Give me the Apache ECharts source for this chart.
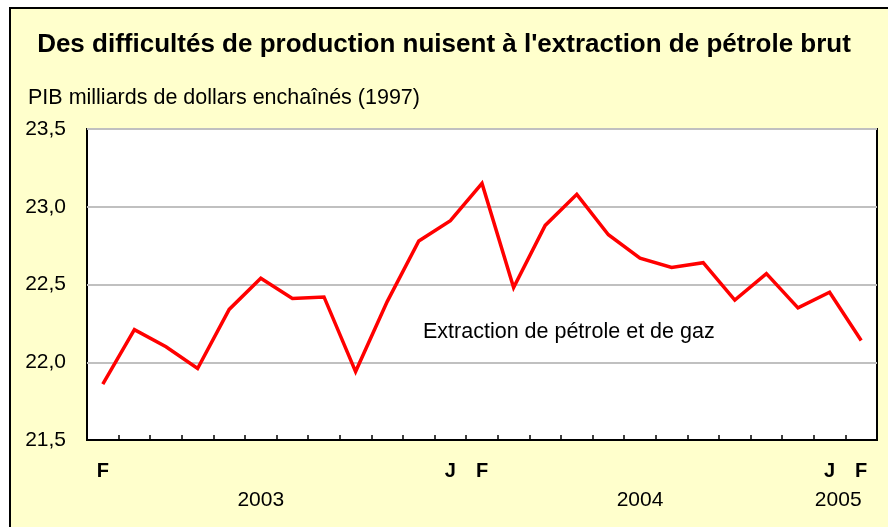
<!DOCTYPE html>
<html>
<head>
<meta charset="utf-8">
<script src="https://cdn.jsdelivr.net/npm/echarts@6/dist/echarts.min.js"></script>
<style>
  html, body { margin: 0; padding: 0; background: #fff; }
  #chart { width: 888px; height: 527px; }
</style>
</head>
<body>
<div id="chart"></div>
<script>
// mois de février 2003 à février 2005
const months = ['2003-02', '2003-03', '2003-04', '2003-05', '2003-06', '2003-07', '2003-08',
  '2003-09', '2003-10', '2003-11', '2003-12', '2004-01', '2004-02', '2004-03', '2004-04',
  '2004-05', '2004-06', '2004-07', '2004-08', '2004-09', '2004-10', '2004-11', '2004-12',
  '2005-01', '2005-02'];
const monthLetters = ['F', '', '', '', '', '', '', '', '', '', '', 'J', 'F', '', '', '', '', '', '', '', '', '', '', 'J', 'F'];
const yearLabels = ['', '', '', '', '', '2003', '', '', '', '', '', '', '', '', '', '', '', '2004', '', '', '', '', '', '', '2005'];
const extraction = [21.86, 22.21, 22.10, 21.96, 22.34, 22.54, 22.41, 22.42, 21.94, 22.39, 22.78, 22.91, 23.15,
  22.48, 22.88, 23.08, 22.82, 22.67, 22.61, 22.64, 22.40, 22.57, 22.35, 22.45, 22.14];

const chart = echarts.init(document.getElementById('chart'));
const font = 'Arial, "Liberation Sans", sans-serif';

chart.setOption({
  backgroundColor: '#ffffff',
  animation: false,
  textStyle: { fontFamily: font },
  graphic: [
    {
      type: 'rect', z: -10,
      shape: { x: 10, y: 8, width: 900, height: 540 },
      style: { fill: '#FFFFCC', stroke: '#000', lineWidth: 2 }
    },
    {
      type: 'text', left: 'center', top: 32,
      style: { text: "Des difficultés de production nuisent à l'extraction de pétrole brut", font: 'bold 26px ' + font, fill: '#000' }
    },
    {
      type: 'text', left: 28, top: 87,
      style: { text: 'PIB milliards de dollars enchaînés (1997)', font: '21.5px ' + font, fill: '#000' }
    },
    {
      type: 'text', left: 423, top: 321,
      style: { text: 'Extraction de pétrole et de gaz', font: '21.5px ' + font, fill: '#000' }
    }
  ],
  grid: {
    left: 87, right: 11, top: 129, bottom: 87,
    show: true, backgroundColor: '#fff', borderColor: '#000', borderWidth: 2
  },
  xAxis: [
    {
      type: 'category', data: months, boundaryGap: true,
      axisLine: { lineStyle: { color: '#000', width: 2 } },
      axisTick: { show: true, inside: true, length: 5, interval: 0, lineStyle: { color: '#000', width: 1.5 } },
      axisLabel: {
        interval: 0, margin: 21, color: '#000', fontSize: 20, fontWeight: 'bold',
        formatter: (v, i) => monthLetters[i]
      }
    },
    {
      type: 'category', data: months, position: 'bottom', boundaryGap: true,
      axisLine: { show: false }, axisTick: { show: false },
      axisLabel: {
        interval: 0, margin: 50, color: '#000', fontSize: 21,
        formatter: (v, i) => yearLabels[i] ? '{' + (i === 24 ? 'l' : 'n') + '|' + yearLabels[i] + '}' : '',
        rich: { n: { fontSize: 21, color: '#000' }, l: { fontSize: 21, color: '#000', padding: [0, 46, 0, 0] } }
      }
    }
  ],
  yAxis: {
    type: 'value', min: 21.5, max: 23.5, interval: 0.5,
    axisLine: { show: false }, axisTick: { show: false },
    axisLabel: { margin: 21, color: '#000', fontSize: 21, formatter: v => v.toFixed(1).replace('.', ',') },
    splitLine: { lineStyle: { color: '#C0C0C0', width: 2 } }
  },
  series: [{
    name: 'Extraction de pétrole et de gaz',
    type: 'line', data: extraction, showSymbol: false,
    lineStyle: { color: '#FF0000', width: 3.5, join: 'miter' }
  }]
});
</script>
</body>
</html>
